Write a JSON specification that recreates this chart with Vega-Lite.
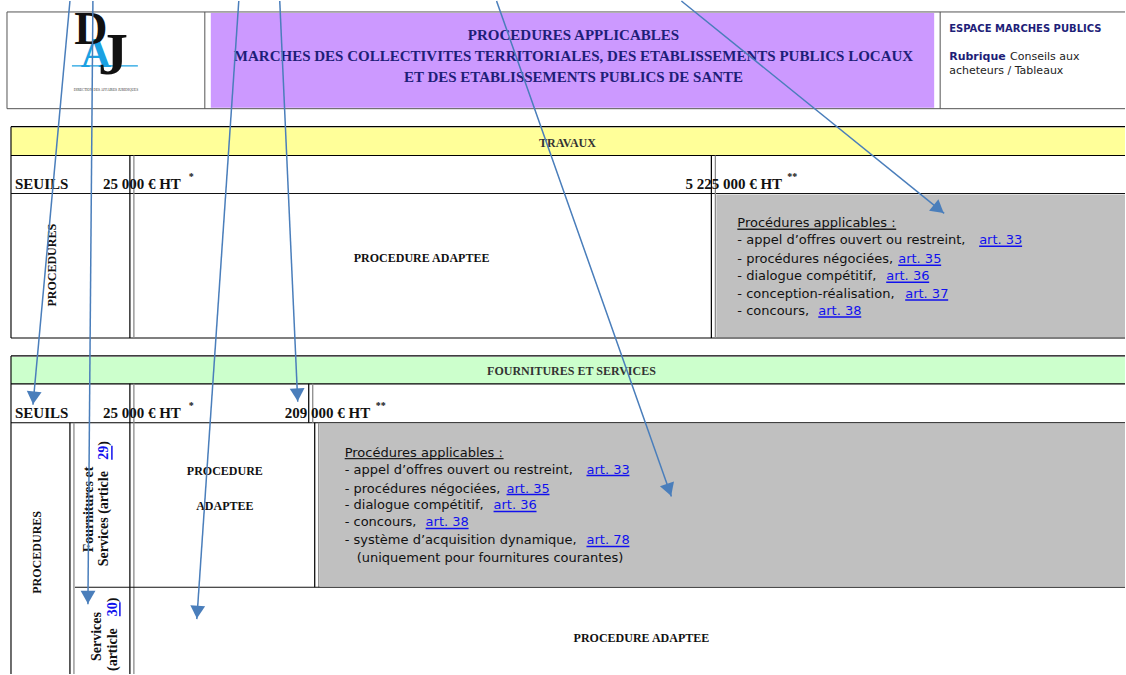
{
"$schema": "https://vega.github.io/schema/vega-lite/v6.json",
"width": 1126, "height": 675, "padding": 0,
"autosize": {"type": "fit", "contains": "padding"},
"background": "white",
"config": {"view": {"stroke": null}},
"datasets": {
"fills": [
{"x":211,"x2":935,"y":12,"y2":107,"kind":"purple"},
{"x":11,"x2":1126,"y":127,"y2":155,"kind":"yellow"},
{"x":717,"x2":1126,"y":194,"y2":337,"kind":"gray"},
{"x":11,"x2":1126,"y":357,"y2":384,"kind":"green"},
{"x":320,"x2":1126,"y":424,"y2":587,"kind":"gray"}
],
"lines": [
{"x":7,"x2":1126,"y":11,"y2":11,"w":"hair"},
{"x":7,"x2":1126,"y":108,"y2":108,"w":"hair"},
{"x":7,"x2":7,"y":11,"y2":108,"w":"hair"},
{"x":205,"x2":205,"y":11,"y2":108,"w":"hair"},
{"x":941,"x2":941,"y":11,"y2":108,"w":"hair"},
{"x":11,"x2":1126,"y":126,"y2":126,"w":"bold"},
{"x":11,"x2":11,"y":126,"y2":338,"w":"bold"},
{"x":11,"x2":1126,"y":155,"y2":155,"w":"bold"},
{"x":11,"x2":1126,"y":193,"y2":193,"w":"rule"},
{"x":11,"x2":1126,"y":338,"y2":338,"w":"bold"},
{"x":130,"x2":130,"y":155,"y2":338,"w":"heavy"},
{"x":134,"x2":134,"y":155,"y2":338,"w":"shade"},
{"x":712,"x2":712,"y":155,"y2":338,"w":"heavy"},
{"x":716,"x2":716,"y":155,"y2":338,"w":"shade"},
{"x":11,"x2":1126,"y":356,"y2":356,"w":"bold"},
{"x":11,"x2":11,"y":356,"y2":675,"w":"bold"},
{"x":11,"x2":1126,"y":384,"y2":384,"w":"bold"},
{"x":11,"x2":1126,"y":423,"y2":423,"w":"bold"},
{"x":130,"x2":130,"y":384,"y2":675,"w":"heavy"},
{"x":134,"x2":134,"y":384,"y2":675,"w":"shade"},
{"x":309,"x2":309,"y":384,"y2":423,"w":"heavy"},
{"x":313,"x2":313,"y":384,"y2":423,"w":"shade"},
{"x":70,"x2":70,"y":423,"y2":675,"w":"heavy"},
{"x":74,"x2":74,"y":423,"y2":675,"w":"shade"},
{"x":315,"x2":315,"y":423,"y2":588,"w":"heavy"},
{"x":319,"x2":319,"y":423,"y2":588,"w":"shade"},
{"x":75,"x2":1126,"y":588,"y2":588,"w":"rule"},
{"x":72,"x2":138,"y":65,"y2":65,"w":"cyan"},
{"x":738,"x2":897,"y":229,"y2":229,"w":"under"},
{"x":980,"x2":1023,"y":246,"y2":246,"w":"link"},
{"x":899,"x2":942,"y":265,"y2":265,"w":"link"},
{"x":887,"x2":930,"y":282,"y2":282,"w":"link"},
{"x":906,"x2":949,"y":300,"y2":300,"w":"link"},
{"x":819,"x2":862,"y":317,"y2":317,"w":"link"},
{"x":345,"x2":504,"y":459,"y2":459,"w":"under"},
{"x":587,"x2":630,"y":476,"y2":476,"w":"link"},
{"x":507,"x2":550,"y":495,"y2":495,"w":"link"},
{"x":494,"x2":537,"y":512,"y2":512,"w":"link"},
{"x":426,"x2":469,"y":529,"y2":529,"w":"link"},
{"x":587,"x2":630,"y":547,"y2":547,"w":"link"},
{"x":112,"x2":112,"y":446,"y2":460,"w":"link"},
{"x":120,"x2":120,"y":603,"y2":617,"w":"link"}
],
"arrows": [
{"x":70,"y":0,"x2":33,"y2":405},
{"x":93,"y":0,"x2":88,"y2":605},
{"x":239,"y":0,"x2":197,"y2":620},
{"x":280,"y":0,"x2":298,"y2":402},
{"x":497,"y":0,"x2":672,"y2":497},
{"x":682,"y":0,"x2":945,"y2":213}
],
"title": [
{"x":574,"y":39,"t":"PROCEDURES APPLICABLES"},
{"x":574,"y":60,"t":"MARCHES DES COLLECTIVITES TERRITORIALES, DES ETABLISSEMENTS PUBLICS LOCAUX"},
{"x":574,"y":81,"t":"ET DES ETABLISSEMENTS PUBLICS DE SANTE"}
],
"sections": [
{"x":568,"y":146,"t":"TRAVAUX"},
{"x":572,"y":375,"t":"FOURNITURES ET SERVICES"}
],
"seuils": [
{"x":15,"y":189,"t":"SEUILS"},
{"x":103,"y":189,"t":"25 000 € HT"},
{"x":686,"y":189,"t":"5 225 000 € HT"},
{"x":15,"y":418,"t":"SEUILS"},
{"x":103,"y":418,"t":"25 000 € HT"},
{"x":285,"y":418,"t":"209 000 € HT"}
],
"sup": [
{"x":189,"y":180,"t":"*"},
{"x":788,"y":180,"t":"**"},
{"x":189,"y":409,"t":"*"},
{"x":376,"y":409,"t":"**"}
],
"adaptee": [
{"x":422,"y":258,"t":"PROCEDURE ADAPTEE"},
{"x":225,"y":471,"t":"PROCEDURE"},
{"x":225,"y":506,"t":"ADAPTEE"},
{"x":642,"y":639,"t":"PROCEDURE ADAPTEE"}
],
"vertical": [
{"x":52,"y":265,"t":"PROCEDURES"},
{"x":37,"y":553,"t":"PROCEDURES"}
],
"articles": [
{"x":89,"y":553,"t":"Fournitures et"},
{"x":104,"y":567,"t":"Services (article"},
{"x":104,"y":446,"t":")"},
{"x":97,"y":662,"t":"Services"},
{"x":113,"y":672,"t":"(article"},
{"x":113,"y":603,"t":")"}
],
"artlinks": [
{"x":104,"y":460,"t":"29"},
{"x":113,"y":617,"t":"30"}
],
"list": [
{"x":738,"y":227,"t":"Procédures applicables :"},
{"x":738,"y":244,"t":"-  appel d’offres ouvert ou restreint,"},
{"x":738,"y":263,"t":"-  procédures négociées,"},
{"x":738,"y":280,"t":"-  dialogue compétitif,"},
{"x":738,"y":298,"t":"-  conception-réalisation,"},
{"x":738,"y":315,"t":"-  concours,"},
{"x":345,"y":457,"t":"Procédures applicables :"},
{"x":345,"y":474,"t":"-  appel d’offres ouvert ou restreint,"},
{"x":345,"y":493,"t":"-  procédures négociées,"},
{"x":345,"y":510,"t":"-  dialogue compétitif,"},
{"x":345,"y":527,"t":"-  concours,"},
{"x":345,"y":545,"t":"-  système d’acquisition dynamique,"},
{"x":357,"y":563,"t":"(uniquement pour fournitures courantes)"}
],
"links": [
{"x":980,"y":244,"t":"art. 33"},
{"x":899,"y":263,"t":"art. 35"},
{"x":887,"y":280,"t":"art. 36"},
{"x":906,"y":298,"t":"art. 37"},
{"x":819,"y":315,"t":"art. 38"},
{"x":587,"y":474,"t":"art. 33"},
{"x":507,"y":493,"t":"art. 35"},
{"x":494,"y":510,"t":"art. 36"},
{"x":426,"y":527,"t":"art. 38"},
{"x":587,"y":545,"t":"art. 78"}
],
"espace": [{"x":950,"y":31,"t":"ESPACE MARCHES PUBLICS"}],
"rubrique": [{"x":950,"y":59,"t":"Rubrique"}],
"conseils": [
{"x":1011,"y":59,"t":"Conseils aux"},
{"x":950,"y":73,"t":"acheteurs / Tableaux"}
],
"logoD": [{"x":91,"y":43,"t":"D"}],
"logoA": [{"x":96,"y":66,"t":"A"}],
"logoJ": [{"x":113,"y":73,"t":"J"}],
"logoSmall": [{"x":106,"y":90,"t":"DIRECTION DES AFFAIRES JURIDIQUES"}]
},
"encoding": {
"x": {"field":"x","type":"quantitative","scale":{"domain":[0,1126],"nice":false,"zero":false},"axis":null},
"y": {"field":"y","type":"quantitative","scale":{"domain":[0,675],"reverse":true,"nice":false,"zero":false},"axis":null}
},
"layer": [
{"data":{"name":"fills"},"mark":{"type":"rect"},
 "encoding":{"x2":{"field":"x2"},"y2":{"field":"y2"},
 "fill":{"field":"kind","type":"nominal","legend":null,"scale":{"domain":["purple","yellow","green","gray"],"range":["#CC99FF","#FFFF99","#CCFFCC","#C0C0C0"]}}}},
{"data":{"name":"logoA"},"mark":{"type":"text","font":"Liberation Serif","fontSize":42,"fontWeight":"bold","align":"center","baseline":"alphabetic","color":"#1BA1E2"},"encoding":{"text":{"field":"t"}}},
{"data":{"name":"lines"},"mark":{"type":"rule"},
 "encoding":{"x2":{"field":"x2"},"y2":{"field":"y2"},
 "stroke":{"field":"w","type":"nominal","legend":null,"scale":{"domain":["hair","rule","bold","heavy","shade","cyan","under","link"],"range":["#555555","#111111","#000000","#000000","#8a8a8a","#1BA1E2","#222222","#1010EE"]}},
 "strokeWidth":{"field":"w","type":"ordinal","legend":null,"scale":{"domain":["hair","rule","bold","heavy","shade","cyan","under","link"],"range":[1,1.5,2.5,4,1.5,2,1,1.2]}}}},
{"data":{"name":"logoD"},"mark":{"type":"text","font":"Liberation Serif","fontSize":46,"fontWeight":"bold","align":"center","baseline":"alphabetic","color":"#111111"},"encoding":{"text":{"field":"t"}}},
{"data":{"name":"logoJ"},"mark":{"type":"text","font":"Liberation Serif","fontSize":60,"fontWeight":"bold","align":"center","baseline":"alphabetic","color":"#111111"},"encoding":{"text":{"field":"t"}}},
{"data":{"name":"logoSmall"},"mark":{"type":"text","font":"Liberation Serif","fontSize":3.5,"align":"center","baseline":"alphabetic","color":"#333333"},"encoding":{"text":{"field":"t"}}},
{"data":{"name":"title"},"mark":{"type":"text","font":"Liberation Serif","fontSize":15,"fontWeight":"bold","align":"center","baseline":"alphabetic","color":"#1E1E78"},"encoding":{"text":{"field":"t"}}},
{"data":{"name":"sections"},"mark":{"type":"text","font":"Liberation Serif","fontSize":12,"fontWeight":"bold","align":"center","baseline":"alphabetic","color":"#333333"},"encoding":{"text":{"field":"t"}}},
{"data":{"name":"seuils"},"mark":{"type":"text","font":"Liberation Serif","fontSize":15,"fontWeight":"bold","align":"left","baseline":"alphabetic","color":"#111111"},"encoding":{"text":{"field":"t"}}},
{"data":{"name":"sup"},"mark":{"type":"text","font":"Liberation Serif","fontSize":10,"fontWeight":"bold","align":"left","baseline":"alphabetic","color":"#111111"},"encoding":{"text":{"field":"t"}}},
{"data":{"name":"adaptee"},"mark":{"type":"text","font":"Liberation Serif","fontSize":12,"fontWeight":"bold","align":"center","baseline":"middle","color":"#111111"},"encoding":{"text":{"field":"t"}}},
{"data":{"name":"vertical"},"mark":{"type":"text","font":"Liberation Serif","fontSize":12,"fontWeight":"bold","align":"center","baseline":"middle","angle":270,"color":"#111111"},"encoding":{"text":{"field":"t"}}},
{"data":{"name":"articles"},"mark":{"type":"text","font":"Liberation Serif","fontSize":14,"fontWeight":"bold","align":"left","baseline":"middle","angle":270,"color":"#111111"},"encoding":{"text":{"field":"t"}}},
{"data":{"name":"artlinks"},"mark":{"type":"text","font":"Liberation Serif","fontSize":14,"fontWeight":"bold","align":"left","baseline":"middle","angle":270,"color":"#1010EE"},"encoding":{"text":{"field":"t"}}},
{"data":{"name":"list"},"mark":{"type":"text","font":"DejaVu Sans","fontSize":13,"align":"left","baseline":"alphabetic","color":"#111111"},"encoding":{"text":{"field":"t"}}},
{"data":{"name":"links"},"mark":{"type":"text","font":"DejaVu Sans","fontSize":13,"align":"left","baseline":"alphabetic","color":"#1010EE"},"encoding":{"text":{"field":"t"}}},
{"data":{"name":"espace"},"mark":{"type":"text","font":"DejaVu Sans","fontSize":10,"fontWeight":"bold","align":"left","baseline":"alphabetic","color":"#1E1E78"},"encoding":{"text":{"field":"t"}}},
{"data":{"name":"rubrique"},"mark":{"type":"text","font":"DejaVu Sans","fontSize":11,"fontWeight":"bold","align":"left","baseline":"alphabetic","color":"#1E1E78"},"encoding":{"text":{"field":"t"}}},
{"data":{"name":"conseils"},"mark":{"type":"text","font":"DejaVu Sans","fontSize":11,"align":"left","baseline":"alphabetic","color":"#222222"},"encoding":{"text":{"field":"t"}}},
{"data":{"name":"arrows"},"mark":{"type":"rule","color":"#4A7EBB","strokeWidth":1.5},"encoding":{"x2":{"field":"x2"},"y2":{"field":"y2"}}},
{"data":{"name":"arrows"},
 "transform":[
  {"calculate":"sqrt((datum.x2-datum.x)*(datum.x2-datum.x)+(datum.y2-datum.y)*(datum.y2-datum.y))","as":"len"},
  {"calculate":"datum.x2-7*(datum.x2-datum.x)/datum.len","as":"hx"},
  {"calculate":"datum.y2-7*(datum.y2-datum.y)/datum.len","as":"hy"},
  {"calculate":"atan2(-(datum.x2-datum.x),(datum.y2-datum.y))*180/PI","as":"ang"}
 ],
 "mark":{"type":"point","shape":"triangle-down","filled":true,"size":220,"opacity":1,"color":"#4A7EBB","strokeWidth":0},
 "encoding":{
  "x":{"field":"hx","type":"quantitative","scale":{"domain":[0,1126],"nice":false,"zero":false},"axis":null},
  "y":{"field":"hy","type":"quantitative","scale":{"domain":[0,675],"reverse":true,"nice":false,"zero":false},"axis":null},
  "angle":{"field":"ang","type":"quantitative","scale":null}}}
]
}
